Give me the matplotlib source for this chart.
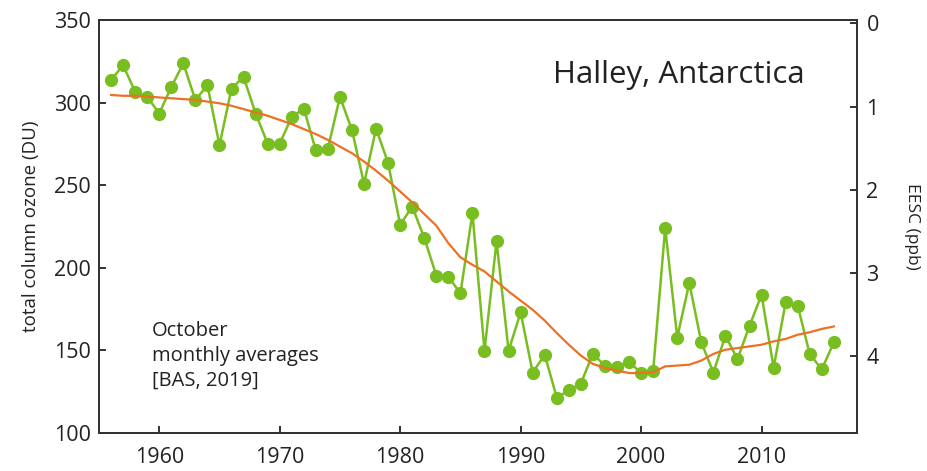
import matplotlib
matplotlib.use("Agg")
import matplotlib.pyplot as plt

plt.rcParams['font.family'] = ['Open Sans', 'DejaVu Sans']

# October monthly mean total ozone at Halley (DU)
years = list(range(1956, 2017))
ozone = [313.6, 322.7, 306.5, 303.5, 293.4, 309.5, 323.7, 301.5, 310.6, 274.2,
         308.5, 315.6, 293.4, 275.2, 275.2, 291.3, 296.4, 271.1, 272.1, 303.5,
         283.3, 250.9, 284.3, 263.4, 226.0, 237.1, 218.1, 195.3, 194.7, 184.5,
         233.0, 149.8, 216.0, 149.8, 173.0, 136.6, 147.3, 121.4, 125.9, 129.9,
         148.1, 140.6, 140.0, 142.7, 136.6, 137.6, 224.2, 157.8, 190.8, 154.8,
         136.6, 158.9, 144.7, 164.9, 183.7, 139.6, 179.1, 177.1, 147.7, 138.6,
         154.8]

# EESC (ppb), plotted on the inverted right axis
eesc = [0.86, 0.87, 0.87, 0.88, 0.89, 0.90, 0.91, 0.92, 0.94, 0.96,
        0.99, 1.03, 1.07, 1.11, 1.16, 1.21, 1.27, 1.33, 1.40, 1.48,
        1.56, 1.66, 1.77, 1.89, 2.02, 2.15, 2.29, 2.43, 2.64, 2.81,
        2.90, 2.98, 3.10, 3.22, 3.33, 3.44, 3.57, 3.72, 3.86, 3.99,
        4.09, 4.14, 4.17, 4.20, 4.20, 4.19, 4.12, 4.11, 4.10, 4.05,
        3.97, 3.92, 3.90, 3.88, 3.86, 3.82, 3.79, 3.74, 3.71, 3.67,
        3.64]

xticks = [1960, 1970, 1980, 1990, 2000, 2010]
yticks_left = [100, 150, 200, 250, 300, 350]
yticks_right = [0, 1, 2, 3, 4]

green = '#78be20'
orange = '#ed7125'
dark = '#333333'
txt = '#222222'

fig = plt.figure(figsize=(9.28, 4.71), dpi=100)
ax = fig.add_axes([0.1067, 0.0807, 0.8165, 0.8768])
ax2 = ax.twinx()

ax.plot(years, ozone, color=green, lw=1.8, marker='o', ms=8.5, zorder=3)
ax2.plot(years, eesc, color=orange, lw=1.6, zorder=4)

ax.set_xlim(1955.0, 2017.9)
ax.set_ylim(100, 350)
ax2.set_ylim(4.92, -0.04)

ax.set_xticks(xticks)
ax.set_yticks(yticks_left)
ax2.set_yticks(yticks_right)

for a in (ax, ax2):
    for s in a.spines.values():
        s.set_color(dark)
        s.set_linewidth(1.4)
    a.tick_params(direction='in', length=5, width=1.4, color=dark,
                  labelsize=15.5, labelcolor=txt)
ax.tick_params(axis='x', pad=10)
ax.tick_params(axis='y', pad=6)
ax2.tick_params(axis='y', pad=7)

ax.set_ylabel('total column ozone (DU)', fontsize=13.5, color=txt, labelpad=10)
ax2.set_ylabel('EESC (ppb)', fontsize=12.5, color=txt, rotation=270, labelpad=30)

ax.text(0.765, 0.867, 'Halley, Antarctica', transform=ax.transAxes,
        fontsize=22.5, color=txt, ha='center', va='center')
ax.text(0.07, 0.187, 'October\nmonthly averages\n[BAS, 2019]', transform=ax.transAxes,
        fontsize=14.5, color=txt, ha='left', va='center', linespacing=1.33)

fig.savefig('out.png', dpi=100)
